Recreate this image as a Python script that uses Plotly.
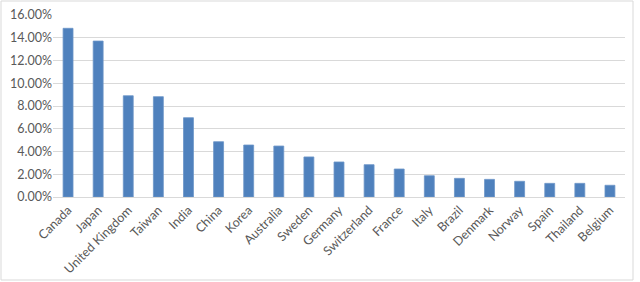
import plotly.graph_objects as go

countries = ["Canada", "Japan", "United Kingdom", "Taiwan", "India", "China", "Korea",
             "Australia", "Sweden", "Germany", "Switzerland", "France", "Italy", "Brazil",
             "Denmark", "Norway", "Spain", "Thailand", "Belgium"]
weights = [0.1483, 0.1371, 0.0890, 0.0882, 0.0697, 0.0486, 0.0457, 0.0448, 0.0352,
           0.0308, 0.0284, 0.0246, 0.0187, 0.0164, 0.0155, 0.0138, 0.0120, 0.0120, 0.0103]
y_ticks = [0, 0.02, 0.04, 0.06, 0.08, 0.10, 0.12, 0.14, 0.16]

fig = go.Figure(go.Bar(
    x=countries, y=weights,
    marker=dict(color="#4F81BD", line=dict(color="#6C95C8", width=0.8)),
))

W, H = 640, 282
L, R, T, B = 53, 15, 15, 85
pw, ph = W - L - R, H - T - B

def px_x(x):
    return (x - L) / pw

def px_y(y):
    return (H - B - y) / ph

fig.update_layout(
    width=W, height=H,
    margin=dict(l=L, r=R, t=T, b=B, autoexpand=False),
    paper_bgcolor="white", plot_bgcolor="white",
    showlegend=False,
    bargap=0.67,
    font=dict(family="Lato, Open Sans, sans-serif", size=12, color="#595959"),
    xaxis=dict(tickangle=-45, showgrid=False, showline=True, linecolor="#D9D9D9",
               linewidth=1, ticks="", tickfont=dict(size=12.5), automargin=False),
    yaxis=dict(range=[0, 0.16], tickvals=y_ticks, tickformat=".2%", showgrid=True,
               gridcolor="#D9D9D9", gridwidth=1, zeroline=False, ticks="",
               showline=False, tickfont=dict(size=12.5), automargin=False),
    shapes=[dict(type="rect", xref="paper", yref="paper",
                 x0=px_x(1), x1=px_x(633), y0=px_y(280), y1=px_y(1),
                 line=dict(color="#D9D9D9", width=1), layer="below")],
)

fig.write_html("out.html")
